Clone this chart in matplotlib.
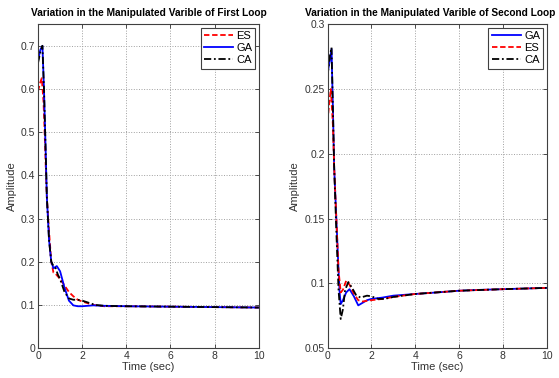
import matplotlib
matplotlib.use("Agg")
import matplotlib.pyplot as plt
from matplotlib.ticker import FuncFormatter

plt.rcParams['font.family'] = ['Liberation Sans', 'DejaVu Sans']

# First loop data
t_es1 = [0, 0.1, 0.17, 0.25, 0.3, 0.35, 0.4, 0.5, 0.6, 0.7, 0.8, 1.0, 1.2, 1.4, 1.6, 1.8, 2.0, 2.5, 3, 4, 6, 8, 10]
es1 = [0.595, 0.615, 0.625, 0.57, 0.50, 0.42, 0.35, 0.27, 0.20, 0.175, 0.172, 0.16, 0.145, 0.13, 0.12, 0.112, 0.108, 0.100, 0.097, 0.097, 0.096, 0.095, 0.094]

t_ga1 = [0, 0.1, 0.2, 0.27, 0.35, 0.4, 0.45, 0.5, 0.6, 0.7, 0.85, 1.0, 1.2, 1.4, 1.6, 1.8, 2.0, 2.5, 3, 4, 6, 8, 10]
ga1 = [0.665, 0.69, 0.70, 0.60, 0.45, 0.35, 0.30, 0.25, 0.20, 0.185, 0.19, 0.178, 0.14, 0.11, 0.099, 0.097, 0.097, 0.099, 0.098, 0.097, 0.096, 0.095, 0.094]

t_ca1 = [0, 0.1, 0.2, 0.27, 0.35, 0.4, 0.45, 0.5, 0.6, 0.7, 0.8, 0.9, 1.0, 1.2, 1.4, 1.6, 1.8, 2.0, 2.3, 2.6, 3, 4, 6, 8, 10]
ca1 = [0.66, 0.685, 0.70, 0.60, 0.45, 0.35, 0.30, 0.25, 0.20, 0.19, 0.185, 0.17, 0.16, 0.13, 0.115, 0.112, 0.112, 0.11, 0.105, 0.100, 0.098, 0.097, 0.096, 0.095, 0.094]

# Second loop data
t_ga2 = [0, 0.1, 0.18, 0.25, 0.3, 0.4, 0.5, 0.55, 0.6, 0.7, 0.85, 1.0, 1.2, 1.4, 1.6, 1.8, 2.0, 2.5, 3, 4, 5, 6, 7, 8, 9, 10]
ga2 = [0.262, 0.272, 0.281, 0.23, 0.19, 0.15, 0.11, 0.093, 0.084, 0.087, 0.093, 0.0955, 0.09, 0.083, 0.085, 0.087, 0.088, 0.089, 0.0905, 0.0918, 0.093, 0.0943, 0.095, 0.0955, 0.096, 0.0965]

t_es2 = [0, 0.08, 0.15, 0.25, 0.3, 0.4, 0.5, 0.6, 0.7, 0.85, 1.0, 1.2, 1.4, 1.6, 1.8, 2.0, 2.5, 3, 4, 6, 8, 10]
es2 = [0.225, 0.24, 0.25, 0.22, 0.19, 0.15, 0.11, 0.093, 0.095, 0.102, 0.099, 0.092, 0.087, 0.086, 0.0865, 0.087, 0.088, 0.0895, 0.0918, 0.0943, 0.0955, 0.0965]

t_ca2 = [0, 0.1, 0.18, 0.25, 0.3, 0.4, 0.5, 0.6, 0.7, 0.8, 0.95, 1.1, 1.3, 1.5, 1.8, 2.0, 2.3, 2.6, 3, 4, 6, 8, 10]
ca2 = [0.26, 0.275, 0.282, 0.23, 0.19, 0.14, 0.095, 0.0725, 0.08, 0.095, 0.101, 0.097, 0.091, 0.089, 0.0905, 0.09, 0.088, 0.088, 0.0895, 0.0918, 0.0943, 0.0955, 0.0965]

xticks = [0, 2, 4, 6, 8, 10]
yticks1 = [0, 0.1, 0.2, 0.3, 0.4, 0.5, 0.6, 0.7]
yticks2 = [0.05, 0.1, 0.15, 0.2, 0.25, 0.3]

red_dash = (0, (3, 1.5))
dash_dot = (0, (4, 1.5, 1, 1.5))
lw = 1.3

fig = plt.figure(figsize=(5.59, 3.78), dpi=100)
ax1 = fig.add_axes([0.068, 0.079, 0.395, 0.857])
ax2 = fig.add_axes([0.586, 0.079, 0.392, 0.857])

ax1.plot(t_es1, es1, color='red', linestyle=red_dash, lw=lw, label='ES')
ax1.plot(t_ga1, ga1, color='blue', lw=lw, label='GA')
ax1.plot(t_ca1, ca1, color='black', linestyle=dash_dot, lw=lw, label='CA')

ax2.plot(t_ga2, ga2, color='blue', lw=lw, label='GA')
ax2.plot(t_es2, es2, color='red', linestyle=red_dash, lw=lw, label='ES')
ax2.plot(t_ca2, ca2, color='black', linestyle=dash_dot, lw=lw, label='CA')

fmt = FuncFormatter(lambda v, p: '%g' % round(v, 3))
for ax, yt, ylim in [(ax1, yticks1, (0, 0.75)), (ax2, yticks2, (0.05, 0.3))]:
    ax.set_xlim(0, 10)
    ax.set_ylim(*ylim)
    ax.set_xticks(xticks)
    ax.set_yticks(yt)
    ax.xaxis.set_major_formatter(fmt)
    ax.yaxis.set_major_formatter(fmt)
    ax.grid(True, linestyle=':', color='#a0a0a0', lw=0.7)
    ax.tick_params(direction='in', top=True, right=True, labelsize=7.5,
                   colors='#333333', length=3, width=0.6, pad=2)
    for s in ax.spines.values():
        s.set_color('#404040')
        s.set_linewidth(0.8)
    ax.set_xlabel('Time (sec)', fontsize=8, color='#333333', labelpad=1)
    ax.set_ylabel('Amplitude', fontsize=8, color='#333333', labelpad=3)
    leg = ax.legend(loc='upper right', fontsize=8, fancybox=False, framealpha=1,
                    edgecolor='#404040', handlelength=2.6, handletextpad=0.3,
                    borderpad=0.3, labelspacing=0.2, borderaxespad=0.3)
    leg.get_frame().set_linewidth(0.8)

ax1.set_title('Variation in the Manipulated Varible of First Loop',
              fontsize=7.3, fontweight='bold', pad=6)
# the second title is wider than its axes: keep it inside the figure
t2 = ax2.set_title('Variation in the Manipulated Varible of Second Loop',
                   fontsize=7.3, fontweight='bold', pad=6)
t2.set_ha('right')
t2.set_x(1.04)

fig.savefig('out.png', dpi=100)
